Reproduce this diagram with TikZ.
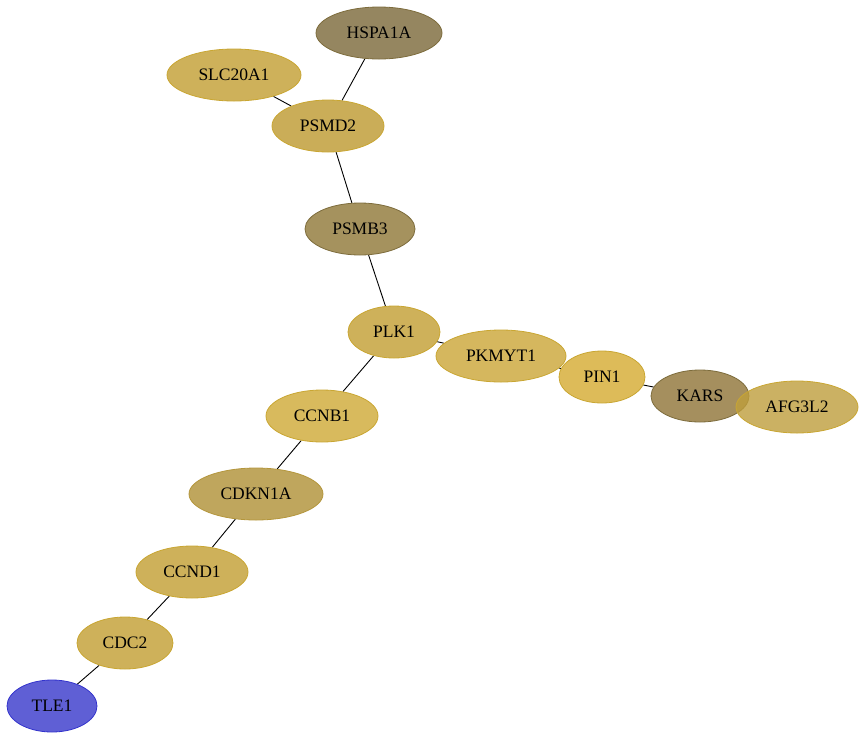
\documentclass[tikz,border=0pt]{standalone}
\usepackage{fontspec}
\setmainfont{Liberation Serif}
\usetikzlibrary{shapes.geometric,backgrounds}
\definecolor{goldfill}{RGB}{206,177,90}
\definecolor{goldline}{RGB}{201,166,50}
\definecolor{brownfill}{RGB}{149,134,96}
\definecolor{brownline}{RGB}{125,108,60}
\definecolor{tanfill}{RGB}{165,146,94}
\definecolor{blueline}{RGB}{51,51,204}
\definecolor{bluefill}{RGB}{95,95,213}

\begin{document}
\begin{tikzpicture}[x=1pt, y=-1pt,
    gene/.style={ellipse, draw=goldline, fill=goldfill, line width=0.8pt, minimum height=52pt, inner sep=0pt, font=\fontsize{17.5}{20}\selectfont},
    link/.style={draw=black, line width=0.9pt}]
  \useasboundingbox (0,0) rectangle (865,740);
  % nodes
  \node[gene, fill=brownfill, draw=brownline, minimum width=126pt] (hspa) at (379,33) {HSPA1A};
  \node[gene, minimum width=134pt] (slc) at (234,75) {SLC20A1};
  \node[gene, fill=goldfill!98!black, minimum width=112pt] (psmd) at (328,126) {PSMD2};
  \node[gene, fill=tanfill, draw=brownline, minimum width=110pt] (psmb) at (360,229) {PSMB3};
  \node[gene, minimum width=92pt] (plk) at (394,332) {PLK1};
  \node[gene, fill={rgb,255:red,213;green,183;blue,94}, minimum width=130pt] (pkmyt) at (501,356) {PKMYT1};
  \node[gene, fill={rgb,255:red,221;green,187;blue,89}, minimum width=86pt] (pin) at (602,377) {PIN1};
  \node[gene, fill={rgb,255:red,165;green,143;blue,94}, draw=brownline, minimum width=98pt] (kars) at (700,396) {KARS};
  \node[gene, fill={rgb,255:red,190;green,158;blue,60}, fill opacity=0.8, text opacity=1, minimum width=122pt] (afg) at (797,407) {AFG3L2};
  \node[gene, fill={rgb,255:red,216;green,186;blue,93}, minimum width=112pt] (ccnb) at (322,416) {CCNB1};
  \node[gene, fill={rgb,255:red,191;green,166;blue,93}, draw={rgb,255:red,180;green,150;blue,60}, minimum width=134pt] (cdkn) at (256,494) {CDKN1A};
  \node[gene, minimum width=112pt] (ccnd) at (192,572) {CCND1};
  \node[gene, minimum width=96pt] (cdc) at (125,643) {CDC2};
  \node[gene, fill=bluefill, draw=blueline, minimum width=90pt] (tle) at (52,706) {TLE1};
  % edges
  \begin{scope}[on background layer]
    \path[link] (hspa) -- (psmd);
    \path[link] (slc) -- (psmd);
    \path[link] (psmd) -- (psmb);
    \path[link] (psmb) -- (plk);
    \path[link] (plk) -- (pkmyt);
    \path[link] (pkmyt) -- (pin);
    \path[link] (pin) -- (kars);
    \path[link] (plk) -- (ccnb);
    \path[link] (ccnb) -- (cdkn);
    \path[link] (cdkn) -- (ccnd);
    \path[link] (ccnd) -- (cdc);
    \path[link] (cdc) -- (tle);
  \end{scope}
\end{tikzpicture}
\end{document}
